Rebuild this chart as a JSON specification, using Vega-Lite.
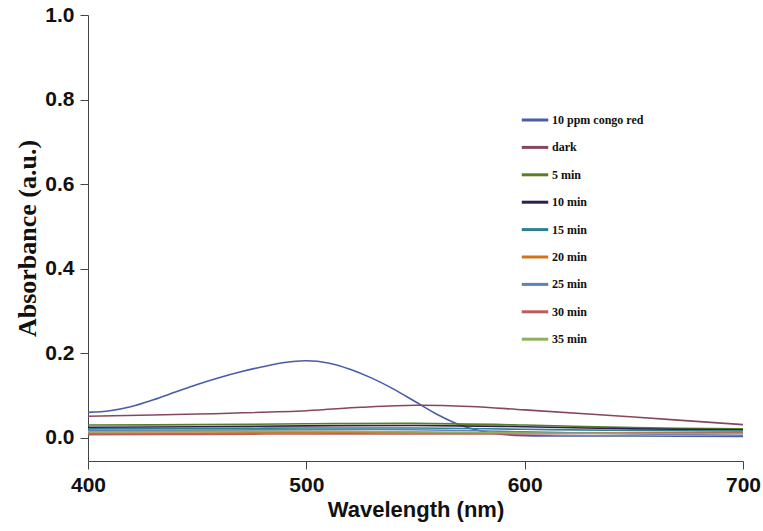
{
  "$schema": "https://vega.github.io/schema/vega-lite/v6.json",
  "width": 655,
  "height": 446,
  "autosize": {"type": "none"},
  "padding": {"left": 88, "top": 15, "right": 20, "bottom": 70},
  "background": "white",
  "config": {
    "view": {"stroke": null},
    "axis": {
      "grid": false,
      "domainColor": "#444",
      "tickColor": "#444",
      "tickSize": 8,
      "labelFont": "Liberation Sans",
      "labelFontWeight": "bold",
      "labelFontSize": 21,
      "labelColor": "#111",
      "titleColor": "#111"
    }
  },
  "data": {
    "values": [
      {"series": "10 ppm congo red", "wl": 400, "abs": 0.060},
      {"series": "10 ppm congo red", "wl": 410, "abs": 0.064},
      {"series": "10 ppm congo red", "wl": 420, "abs": 0.074},
      {"series": "10 ppm congo red", "wl": 430, "abs": 0.090},
      {"series": "10 ppm congo red", "wl": 440, "abs": 0.108},
      {"series": "10 ppm congo red", "wl": 450, "abs": 0.126},
      {"series": "10 ppm congo red", "wl": 460, "abs": 0.142},
      {"series": "10 ppm congo red", "wl": 470, "abs": 0.156},
      {"series": "10 ppm congo red", "wl": 480, "abs": 0.168},
      {"series": "10 ppm congo red", "wl": 490, "abs": 0.178},
      {"series": "10 ppm congo red", "wl": 500, "abs": 0.182},
      {"series": "10 ppm congo red", "wl": 510, "abs": 0.177},
      {"series": "10 ppm congo red", "wl": 520, "abs": 0.162},
      {"series": "10 ppm congo red", "wl": 530, "abs": 0.141},
      {"series": "10 ppm congo red", "wl": 540, "abs": 0.115},
      {"series": "10 ppm congo red", "wl": 550, "abs": 0.085},
      {"series": "10 ppm congo red", "wl": 560, "abs": 0.055},
      {"series": "10 ppm congo red", "wl": 570, "abs": 0.031},
      {"series": "10 ppm congo red", "wl": 580, "abs": 0.016},
      {"series": "10 ppm congo red", "wl": 590, "abs": 0.008},
      {"series": "10 ppm congo red", "wl": 600, "abs": 0.005},
      {"series": "10 ppm congo red", "wl": 650, "abs": 0.004},
      {"series": "10 ppm congo red", "wl": 700, "abs": 0.003},

      {"series": "dark", "wl": 400, "abs": 0.051},
      {"series": "dark", "wl": 450, "abs": 0.056},
      {"series": "dark", "wl": 500, "abs": 0.064},
      {"series": "dark", "wl": 525, "abs": 0.072},
      {"series": "dark", "wl": 550, "abs": 0.077},
      {"series": "dark", "wl": 575, "abs": 0.074},
      {"series": "dark", "wl": 600, "abs": 0.066},
      {"series": "dark", "wl": 650, "abs": 0.049},
      {"series": "dark", "wl": 700, "abs": 0.031},

      {"series": "5 min", "wl": 400, "abs": 0.030},
      {"series": "5 min", "wl": 450, "abs": 0.031},
      {"series": "5 min", "wl": 500, "abs": 0.033},
      {"series": "5 min", "wl": 550, "abs": 0.034},
      {"series": "5 min", "wl": 600, "abs": 0.030},
      {"series": "5 min", "wl": 650, "abs": 0.024},
      {"series": "5 min", "wl": 700, "abs": 0.021},

      {"series": "10 min", "wl": 400, "abs": 0.025},
      {"series": "10 min", "wl": 450, "abs": 0.026},
      {"series": "10 min", "wl": 500, "abs": 0.028},
      {"series": "10 min", "wl": 550, "abs": 0.029},
      {"series": "10 min", "wl": 600, "abs": 0.026},
      {"series": "10 min", "wl": 650, "abs": 0.021},
      {"series": "10 min", "wl": 700, "abs": 0.019},

      {"series": "15 min", "wl": 400, "abs": 0.021},
      {"series": "15 min", "wl": 450, "abs": 0.022},
      {"series": "15 min", "wl": 500, "abs": 0.023},
      {"series": "15 min", "wl": 550, "abs": 0.023},
      {"series": "15 min", "wl": 600, "abs": 0.020},
      {"series": "15 min", "wl": 650, "abs": 0.017},
      {"series": "15 min", "wl": 700, "abs": 0.016},

      {"series": "20 min", "wl": 400, "abs": 0.011},
      {"series": "20 min", "wl": 450, "abs": 0.011},
      {"series": "20 min", "wl": 500, "abs": 0.012},
      {"series": "20 min", "wl": 550, "abs": 0.012},
      {"series": "20 min", "wl": 600, "abs": 0.011},
      {"series": "20 min", "wl": 650, "abs": 0.011},
      {"series": "20 min", "wl": 700, "abs": 0.012},

      {"series": "25 min", "wl": 400, "abs": 0.017},
      {"series": "25 min", "wl": 450, "abs": 0.018},
      {"series": "25 min", "wl": 500, "abs": 0.019},
      {"series": "25 min", "wl": 550, "abs": 0.019},
      {"series": "25 min", "wl": 600, "abs": 0.014},
      {"series": "25 min", "wl": 650, "abs": 0.009},
      {"series": "25 min", "wl": 700, "abs": 0.006},

      {"series": "30 min", "wl": 400, "abs": 0.007},
      {"series": "30 min", "wl": 450, "abs": 0.008},
      {"series": "30 min", "wl": 500, "abs": 0.009},
      {"series": "30 min", "wl": 550, "abs": 0.009},
      {"series": "30 min", "wl": 600, "abs": 0.009},
      {"series": "30 min", "wl": 650, "abs": 0.011},
      {"series": "30 min", "wl": 700, "abs": 0.013},

      {"series": "35 min", "wl": 400, "abs": 0.014},
      {"series": "35 min", "wl": 450, "abs": 0.015},
      {"series": "35 min", "wl": 500, "abs": 0.015},
      {"series": "35 min", "wl": 550, "abs": 0.014},
      {"series": "35 min", "wl": 600, "abs": 0.011},
      {"series": "35 min", "wl": 650, "abs": 0.010},
      {"series": "35 min", "wl": 700, "abs": 0.010}
    ]
  },
  "mark": {"type": "line", "interpolate": "catmull-rom", "strokeWidth": 1.6},
  "encoding": {
    "x": {
      "field": "wl",
      "type": "quantitative",
      "scale": {"domain": [400, 700], "nice": false, "zero": false},
      "axis": {
        "values": [400, 500, 600, 700],
        "labelFlush": false,
        "labelPadding": 5,
        "title": "Wavelength (nm)",
        "titleFont": "Liberation Sans",
        "titleFontWeight": "bold",
        "titleFontSize": 22,
        "titlePadding": 4
      }
    },
    "y": {
      "field": "abs",
      "type": "quantitative",
      "scale": {"domain": [-0.055, 1.0], "nice": false, "zero": false},
      "axis": {
        "values": [0, 0.2, 0.4, 0.6, 0.8, 1.0],
        "format": ".1f",
        "labelFlush": false,
        "labelPadding": 6,
        "title": "Absorbance (a.u.)",
        "titleFont": "Liberation Serif",
        "titleFontWeight": "bold",
        "titleFontSize": 26,
        "titlePadding": 4
      }
    },
    "color": {
      "field": "series",
      "type": "nominal",
      "scale": {
        "domain": ["10 ppm congo red", "dark", "5 min", "10 min", "15 min", "20 min", "25 min", "30 min", "35 min"],
        "range": ["#4a5ca6", "#874660", "#5a7d2a", "#2e1f4f", "#2f7f8f", "#d0731f", "#5f7fbf", "#c05a5a", "#8fb060"]
      },
      "legend": {
        "title": null,
        "orient": "none",
        "legendX": 432,
        "legendY": 90,
        "padding": 0,
        "symbolType": "stroke",
        "symbolSize": 700,
        "symbolStrokeWidth": 3,
        "rowPadding": 6.4,
        "labelOffset": 2,
        "labelFont": "Liberation Serif",
        "labelFontWeight": "bold",
        "labelFontSize": 12,
        "labelColor": "#111"
      }
    }
  }
}
